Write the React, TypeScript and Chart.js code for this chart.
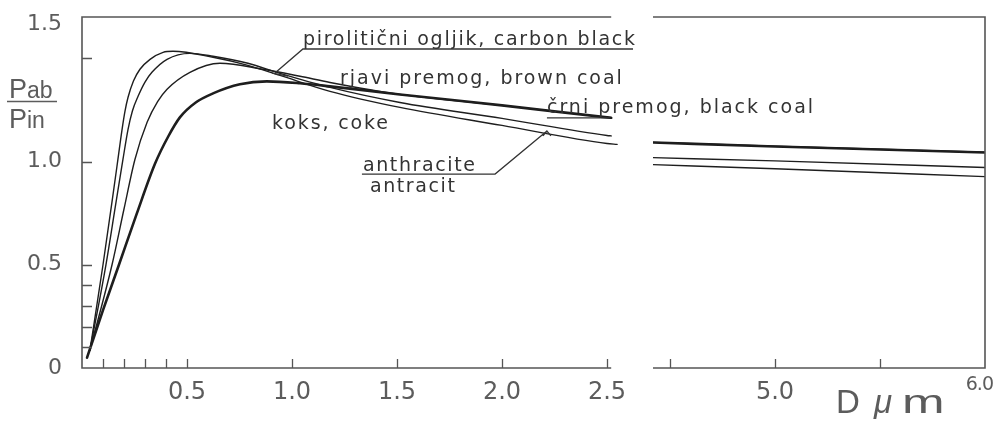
import React, { useEffect, useRef } from 'react';
import { Chart, registerables } from 'chart.js';

Chart.register(...registerables);

// ---------- data (D in µm, Pab/Pin) ----------
// left panel, D = 0 ... 2.55 µm
const carbonBlackX = [0.038, 0.1, 0.145, 0.171, 0.19, 0.205, 0.219, 0.245, 0.276, 0.324, 0.386, 0.433, 0.624, 0.79, 0.943, 1.181, 1.514, 2.0, 2.5, 2.548];
const carbonBlackY = [0.087, 0.5, 0.82, 1.01, 1.15, 1.245, 1.31, 1.39, 1.447, 1.495, 1.529, 1.534, 1.505, 1.466, 1.417, 1.34, 1.262, 1.175, 1.087, 1.083];

const anthraciteX = [0.038, 0.114, 0.16, 0.195, 0.219, 0.24, 0.267, 0.3, 0.333, 0.405, 0.514, 0.624, 0.79, 0.943, 1.181, 1.514, 2.0, 2.5, 2.52];
const anthraciteY = [0.087, 0.5, 0.79, 1.01, 1.155, 1.245, 1.316, 1.385, 1.432, 1.495, 1.524, 1.51, 1.476, 1.427, 1.359, 1.286, 1.209, 1.126, 1.124];

const brownCoalX = [0.038, 0.143, 0.2, 0.252, 0.31, 0.36, 0.405, 0.514, 0.657, 0.862, 1.038, 1.181, 1.514, 2.0, 2.5, 2.52];
const brownCoalY = [0.087, 0.5, 0.77, 1.01, 1.19, 1.29, 1.35, 1.432, 1.476, 1.447, 1.413, 1.383, 1.325, 1.272, 1.214, 1.212];

const blackCoalX = [0.024, 0.1, 0.176, 0.26, 0.348, 0.41, 0.467, 0.54, 0.624, 0.752, 0.88, 1.038, 1.181, 1.514, 2.0, 2.5, 2.52];
const blackCoalY = [0.05, 0.28, 0.5, 0.745, 0.99, 1.12, 1.215, 1.285, 1.33, 1.374, 1.388, 1.379, 1.364, 1.325, 1.272, 1.214, 1.212];

// right panel, D = 4.4 ... 6.0 µm
const rightX = [4.42, 5.0, 6.0];
const carbonBlackRightY = [0.985, 0.965, 0.927];
const anthraciteRightY = [1.019, 1.003, 0.971];
const brownCoalRightY = [1.093, 1.074, 1.045];
const blackCoalRightY = [1.092, 1.073, 1.044];

// ---------- axes ----------
const leftXMin = 0;
const leftXMax = 2.719;
const leftAxisEnd = 2.52;
const rightXMin = 4.419;
const rightXMax = 6.0;
const yMin = 0;
const yMax = 1.7;
const leftXTicks = [0.1, 0.2, 0.3, 0.4, 0.5, 1.0, 1.5, 2.0, 2.5];
const leftXTickLabels = ['', '', '', '', '0.5', '1.0', '1.5', '2.0', '2.5'];
const rightXTicks = [4.5, 5.0, 5.5];
const rightXTickLabels = ['', '5.0', ''];
const yTicks = [0, 0.1, 0.2, 0.3, 0.4, 0.5, 1.0, 1.5];
const yTickLabels = ['0', '', '', '', '', '0.5', '1.0', ''];
const yTopLabel = '1.5';
const xEndLabel = '6.0';

// ---------- curve labels ----------
const labelCarbonBlack = 'pirolitični ogljik, carbon black';
const labelBrownCoal = 'rjavi premog, brown coal';
const labelBlackCoal = 'črni premog, black coal';
const labelCoke = 'koks, coke';
const labelAnthracite = 'anthracite';
const labelAntracit = 'antracit';

const LINE = '#1e1e1e';
const FRAME = '#555555';
const TEXT = '#333333';
const TICKTEXT = '#5c5c5c';

function pts(xs: number[], ys: number[]) {
  return xs.map((x, i) => ({ x, y: ys[i] }));
}

function ds(label: string, xs: number[], ys: number[], axis: string, width: number) {
  return {
    label,
    data: pts(xs, ys),
    xAxisID: axis,
    yAxisID: 'y',
    borderColor: LINE,
    borderWidth: width,
    pointRadius: 0,
    fill: false,
    cubicInterpolationMode: 'monotone',
    borderJoinStyle: 'round',
    borderCapStyle: 'round',
  };
}

function spaced(ctx: any, text: string, x: number, y: number, width: number) {
  ctx.letterSpacing = '0px';
  const w = ctx.measureText(text).width;
  const n = Array.from(text).length;
  const sp = n > 1 ? (width - w) / (n - 1) : 0;
  ctx.letterSpacing = sp.toFixed(2) + 'px';
  ctx.fillText(text, x, y);
  ctx.letterSpacing = '0px';
}

const notesPlugin = {
  id: 'frameAndNotes',
  afterDraw(chart: any) {
    const ctx = chart.ctx;
    const xL = chart.scales.xL;
    const xR = chart.scales.xR;
    const ys = chart.scales.y;
    const X = (v: number) => xL.getPixelForValue(v);
    const XR = (v: number) => xR.getPixelForValue(v);
    const Y = (v: number) => ys.getPixelForValue(v);
    const top = Y(yMax);
    const bottom = Y(yMin);
    const left = X(leftXMin);
    const right = XR(rightXMax);
    const lEnd = X(leftAxisEnd);
    const rStart = XR(rightXMin);

    ctx.save();
    // frame with axis break
    ctx.strokeStyle = FRAME;
    ctx.lineWidth = 1.6;
    ctx.beginPath();
    ctx.moveTo(lEnd, top);
    ctx.lineTo(left, top);
    ctx.lineTo(left, bottom);
    ctx.lineTo(lEnd, bottom);
    ctx.moveTo(rStart, top);
    ctx.lineTo(right, top);
    ctx.lineTo(right, bottom);
    ctx.lineTo(rStart, bottom);
    ctx.stroke();

    // inward tick marks
    ctx.lineWidth = 1.3;
    ctx.beginPath();
    leftXTicks.forEach((v) => {
      const p = Math.round(X(v)) + 0.5;
      ctx.moveTo(p, bottom);
      ctx.lineTo(p, bottom - 9);
    });
    rightXTicks.forEach((v) => {
      const p = Math.round(XR(v)) + 0.5;
      ctx.moveTo(p, bottom);
      ctx.lineTo(p, bottom - 9);
    });
    yTicks.forEach((v) => {
      if (v === yMin) return;
      const p = Math.round(Y(v)) + 0.5;
      ctx.moveTo(left, p);
      ctx.lineTo(left + 10, p);
    });
    ctx.stroke();

    // "1.5" label drawn at the top of the y axis (as in the original) and the "6.0" end label
    ctx.fillStyle = TICKTEXT;
    ctx.font = '22px "DejaVu Sans"';
    ctx.textAlign = 'right';
    ctx.textBaseline = 'middle';
    ctx.fillText(yTopLabel, left - 20, top + 7);
    ctx.font = '19px "DejaVu Sans"';
    ctx.letterSpacing = '-1px';
    ctx.fillText(xEndLabel, right + 8, bottom + 17);
    ctx.letterSpacing = '0px';

    // y axis title  Pab / Pin
    ctx.textAlign = 'left';
    ctx.textBaseline = 'alphabetic';
    ctx.fillStyle = TICKTEXT;
    ctx.font = '27px "Liberation Sans"';
    ctx.fillText('P', 9, 98);
    ctx.fillText('P', 9, 128);
    ctx.font = '23px "Liberation Sans"';
    ctx.fillText('ab', 27, 98);
    ctx.fillText('in', 27, 128);
    ctx.strokeStyle = TICKTEXT;
    ctx.lineWidth = 1.4;
    ctx.beginPath();
    ctx.moveTo(7, 101.5);
    ctx.lineTo(57, 101.5);
    ctx.stroke();

    // x axis title  D µm
    ctx.font = '33px "Liberation Sans"';
    ctx.fillText('D', 836, 413);
    ctx.font = 'italic 33px "Liberation Sans"';
    ctx.fillText('\u03bc', 874, 413);
    ctx.save();
    ctx.translate(902, 413);
    ctx.scale(1.55, 1);
    ctx.font = '33px "Liberation Sans"';
    ctx.fillText('m', 0, 0);
    ctx.restore();

    // curve labels
    ctx.fillStyle = TEXT;
    ctx.font = '19px "DejaVu Sans"';
    ctx.textAlign = 'left';
    ctx.textBaseline = 'alphabetic';
    spaced(ctx, labelCarbonBlack, X(1.052), Y(1.564), X(2.633) - X(1.052));
    spaced(ctx, labelBrownCoal, X(1.229), Y(1.375), X(2.571) - X(1.229));
    spaced(ctx, labelBlackCoal, X(2.214), Y(1.235), X(3.481) - X(2.214));
    spaced(ctx, labelCoke, X(0.905), Y(1.157), X(1.457) - X(0.905));
    spaced(ctx, labelAnthracite, X(1.338), Y(0.954), X(1.871) - X(1.338));
    spaced(ctx, labelAntracit, X(1.371), Y(0.852), X(1.776) - X(1.371));

    // underlines and leader lines
    ctx.strokeStyle = TEXT;
    ctx.lineWidth = 1.3;
    ctx.beginPath();
    // carbon black
    ctx.moveTo(X(2.624), Y(1.545));
    ctx.lineTo(X(1.052), Y(1.545));
    ctx.lineTo(X(0.919), Y(1.4286));
    ctx.moveTo(X(0.905), Y(1.4286));
    ctx.lineTo(X(0.981), Y(1.414));
    // black coal
    ctx.moveTo(X(2.214), Y(1.211));
    ctx.lineTo(X(2.514), Y(1.211));
    // anthracite
    ctx.moveTo(X(1.333), Y(0.939));
    ctx.lineTo(X(1.967), Y(0.939));
    ctx.lineTo(X(2.214), Y(1.148));
    ctx.moveTo(X(2.195), Y(1.124));
    ctx.lineTo(X(2.214), Y(1.148));
    ctx.lineTo(X(2.233), Y(1.124));
    ctx.stroke();

    ctx.restore();
  },
};

export default function App() {
  const ref = useRef<HTMLCanvasElement>(null);

  useEffect(() => {
    const canvas = ref.current;
    if (!canvas) return;

    const tickFont = { family: '"DejaVu Sans"', size: 24 };

    const config: any = {
      type: 'line',
      data: {
        datasets: [
          ds(labelCarbonBlack, carbonBlackX, carbonBlackY, 'xL', 1.4),
          ds(labelAnthracite, anthraciteX, anthraciteY, 'xL', 1.4),
          ds(labelBrownCoal, brownCoalX, brownCoalY, 'xL', 1.4),
          ds(labelBlackCoal, blackCoalX, blackCoalY, 'xL', 2.6),
          ds(labelCarbonBlack, rightX, carbonBlackRightY, 'xR', 1.4),
          ds(labelAnthracite, rightX, anthraciteRightY, 'xR', 1.4),
          ds(labelBrownCoal, rightX, brownCoalRightY, 'xR', 1.4),
          ds(labelBlackCoal, rightX, blackCoalRightY, 'xR', 2.6),
        ],
      },
      options: {
        animation: false,
        responsive: false,
        devicePixelRatio: 1,
        layout: { padding: { top: 17, right: 12, left: 0, bottom: 0 } },
        plugins: {
          legend: { display: false },
          tooltip: { enabled: false },
          title: { display: false },
        },
        elements: { point: { radius: 0 } },
        scales: {
          xL: {
            type: 'linear',
            axis: 'x',
            position: 'bottom',
            stack: 'x',
            stackWeight: leftXMax - leftXMin,
            min: leftXMin,
            max: leftXMax,
            grid: { display: false, drawTicks: false },
            border: { display: false },
            afterBuildTicks: (s: any) => {
              s.ticks = leftXTicks.map((v) => ({ value: v }));
            },
            ticks: {
              autoSkip: false,
              maxRotation: 0,
              padding: 10,
              color: TICKTEXT,
              font: tickFont,
              callback: (_v: any, i: number) => leftXTickLabels[i],
            },
            afterFit: (s: any) => {
              s.height = 65;
              s.paddingLeft = 0;
              s.paddingRight = 0;
            },
          },
          xR: {
            type: 'linear',
            axis: 'x',
            position: 'bottom',
            stack: 'x',
            stackWeight: rightXMax - rightXMin,
            min: rightXMin,
            max: rightXMax,
            grid: { display: false, drawTicks: false },
            border: { display: false },
            afterBuildTicks: (s: any) => {
              s.ticks = rightXTicks.map((v) => ({ value: v }));
            },
            ticks: {
              autoSkip: false,
              maxRotation: 0,
              padding: 10,
              color: TICKTEXT,
              font: tickFont,
              callback: (_v: any, i: number) => rightXTickLabels[i],
            },
            afterFit: (s: any) => {
              s.height = 65;
              s.paddingLeft = 0;
              s.paddingRight = 0;
            },
          },
          y: {
            type: 'linear',
            axis: 'y',
            position: 'left',
            min: yMin,
            max: yMax,
            grid: { display: false, drawTicks: false },
            border: { display: false },
            afterBuildTicks: (s: any) => {
              s.ticks = yTicks.map((v) => ({ value: v }));
            },
            ticks: {
              autoSkip: false,
              padding: 20,
              color: TICKTEXT,
              font: { family: '"DejaVu Sans"', size: 22 },
              callback: (_v: any, i: number) => yTickLabels[i],
            },
            afterFit: (s: any) => {
              s.width = 82;
              s.paddingTop = 0;
              s.paddingBottom = 0;
            },
          },
        },
      },
      plugins: [notesPlugin],
    };

    const chart = new Chart(canvas, config);
    return () => chart.destroy();
  }, []);

  return (
    <div style={{ position: 'absolute', left: 0, top: 0, width: 997, height: 433, background: '#ffffff' }}>
      <canvas ref={ref} width={997} height={433} style={{ display: 'block', width: 997, height: 433 }} />
    </div>
  );
}
